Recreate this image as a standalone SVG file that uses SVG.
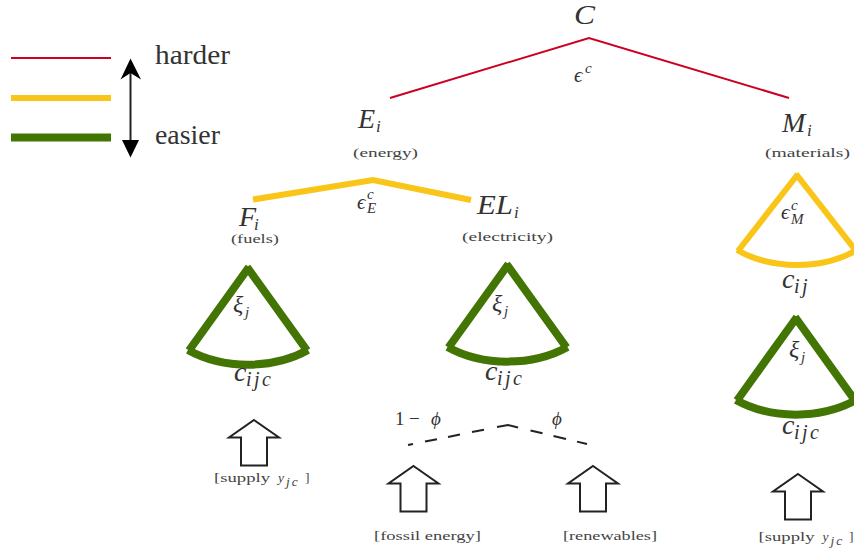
<svg xmlns="http://www.w3.org/2000/svg" width="854" height="551" viewBox="0 0 854 551">
<style>
text{font-family:"Liberation Serif","DejaVu Serif",serif;fill:#333}
.m{font-style:italic;font-size:28px}
.i{font-size:17px}
.c{font-size:15px}
.x{font-size:24px}
.sb{font-size:20px}
.e{font-size:21px}
.g{font-size:13.500px;fill:#444}
.l{font-size:27px}
.red,.yel,.grn,.dash{fill:none}
.red{stroke:#cc0020;stroke-width:2}
.yel{stroke:#f9c518;stroke-width:6}
.grn{stroke:#437505;stroke-width:8}
.dash{stroke:#222;stroke-width:2}
.arr{stroke:#222;stroke-width:2;fill:#fff}
</style>
<defs>
<path id="up" class="arr" d="M0 0L25 17.500H13V45.500H-13V17.500H-25Z"/>
<g id="fan"><path d="M1 0L-59 83.500M-1 0L59 83.500"/><path d="M-60 83C-25 102.500 25 102.500 60 83"/></g>
</defs>
<g id="connectors">
<path class="red" d="M11 58H111"/>
<path class="yel" d="M11 98H111"/>
<path class="grn" d="M11 137.500H111"/>
<path d="M130.500 72V144" stroke="#222" stroke-width="2" fill="none"/>
<path d="M130.500 58.500L141 79.500L130.500 73L120.500 79.500Z" fill="#000"/>
<path d="M130.500 157.500L139 140H122Z" fill="#000"/>
<path class="red" d="M390 98L589 38L789 98"/>
<path class="yel" d="M253 199.500L373 180L471 200"/>
<path class="dash" d="M408 445L413 444M425 441.600L437 439.200M448 437L460 434.500M472 432L484 429.800M497 427L508 425L518 427.500M530.500 430.500L542.500 433.300M553.500 436L566 439M577 441.600L587 444"/>
</g>
<g id="legend-labels"><text class="l" x="155" y="64" textLength="75" lengthAdjust="spacingAndGlyphs">harder</text><text class="l" x="155" y="144" textLength="65" lengthAdjust="spacingAndGlyphs">easier</text></g>
<g id="node-C"><text class="m" x="574" y="24" textLength="21" lengthAdjust="spacingAndGlyphs">C</text><text x="574" y="82" font-style="italic"><tspan class="e">ϵ</tspan><tspan class="c" x="585" y="73">c</tspan></text></g>
<g id="node-E"><text class="m" x="358" y="128">E<tspan class="i" x="376" y="132">i</tspan></text><text class="g" x="353" y="157" textLength="65" lengthAdjust="spacingAndGlyphs">(energy)</text></g>
<g id="node-M"><text class="m" x="782" y="132">M<tspan class="i" x="807" y="136">i</tspan></text><text class="g" x="765" y="157" textLength="85" lengthAdjust="spacingAndGlyphs">(materials)</text></g>
<g id="node-F"><text class="m" x="239" y="226">F<tspan class="i" x="254" y="230">i</tspan></text><text class="g" x="231" y="243" textLength="48" lengthAdjust="spacingAndGlyphs">(fuels)</text></g>
<g id="node-EL"><text class="m" x="477" y="214"><tspan textLength="36" lengthAdjust="spacingAndGlyphs">EL</tspan><tspan class="i" x="514" y="218">i</tspan></text><text class="g" x="462" y="241" textLength="91" lengthAdjust="spacingAndGlyphs">(electricity)</text></g>
<text x="357" y="209" font-style="italic"><tspan class="e">ϵ</tspan><tspan class="c" x="367" y="199">c</tspan><tspan class="c" x="367" y="213">E</tspan></text>
<g id="fan-F" class="grn"><use href="#fan" x="248" y="267"/></g>
<g id="fan-EL" class="grn"><use href="#fan" x="507.500" y="264"/></g>
<g id="fan-M" class="yel"><path d="M798 174L738 251M796 174L856 251"/><path d="M737 250C772 270 822 270 857 250"/></g>
<g id="fan-Mg" class="grn"><use href="#fan" x="796" y="317"/></g>
<text x="233" y="312" font-style="italic"><tspan class="x">ξ</tspan><tspan class="c" x="245" y="317">j</tspan></text>
<text x="492" y="311" font-style="italic"><tspan class="x">ξ</tspan><tspan class="c" x="504" y="316">j</tspan></text>
<text x="789" y="357" font-style="italic"><tspan class="x">ξ</tspan><tspan class="c" x="801" y="362">j</tspan></text>
<text x="781" y="219" font-style="italic"><tspan class="e">ϵ</tspan><tspan class="c" x="791" y="210">c</tspan><tspan class="c" x="791" y="224">M</tspan></text>
<text class="m" x="234" y="381">c<tspan class="sb" x="246" y="386" letter-spacing="2.500">ijc</tspan></text>
<text class="m" x="485" y="380">c<tspan class="sb" x="497" y="385" letter-spacing="2.500">ijc</tspan></text>
<text class="m" x="782" y="288">c<tspan class="sb" x="794" y="293" letter-spacing="2.500">ij</tspan></text>
<text class="m" x="782" y="434">c<tspan class="sb" x="794" y="439" letter-spacing="2.500">ijc</tspan></text>
<text x="395" y="425" style="font-size:19px">1<tspan x="409">−</tspan><tspan x="431" font-style="italic">ϕ</tspan></text>
<text x="552" y="425" style="font-size:19px;font-style:italic">ϕ</text>
<g id="arrow-F"><use href="#up" x="254" y="420"/><text class="g" x="214" y="482"><tspan textLength="56" lengthAdjust="spacingAndGlyphs">[supply</tspan><tspan font-style="italic" x="278">y</tspan><tspan font-style="italic" x="286" y="486" letter-spacing="2">jc</tspan><tspan x="305" y="482">]</tspan></text></g>
<g id="arrow-fossil"><use href="#up" x="413.500" y="466"/><text class="g" x="374" y="540" textLength="107" lengthAdjust="spacingAndGlyphs">[fossil energy]</text></g>
<g id="arrow-ren"><use href="#up" x="593" y="466"/><text class="g" x="563" y="540" textLength="94" lengthAdjust="spacingAndGlyphs">[renewables]</text></g>
<g id="arrow-M"><use href="#up" x="798" y="474"/><text class="g" x="758.500" y="541"><tspan textLength="56" lengthAdjust="spacingAndGlyphs">[supply</tspan><tspan font-style="italic" x="822.500">y</tspan><tspan font-style="italic" x="830.500" y="545" letter-spacing="2">jc</tspan><tspan x="849" y="541">]</tspan></text></g>
</svg>
